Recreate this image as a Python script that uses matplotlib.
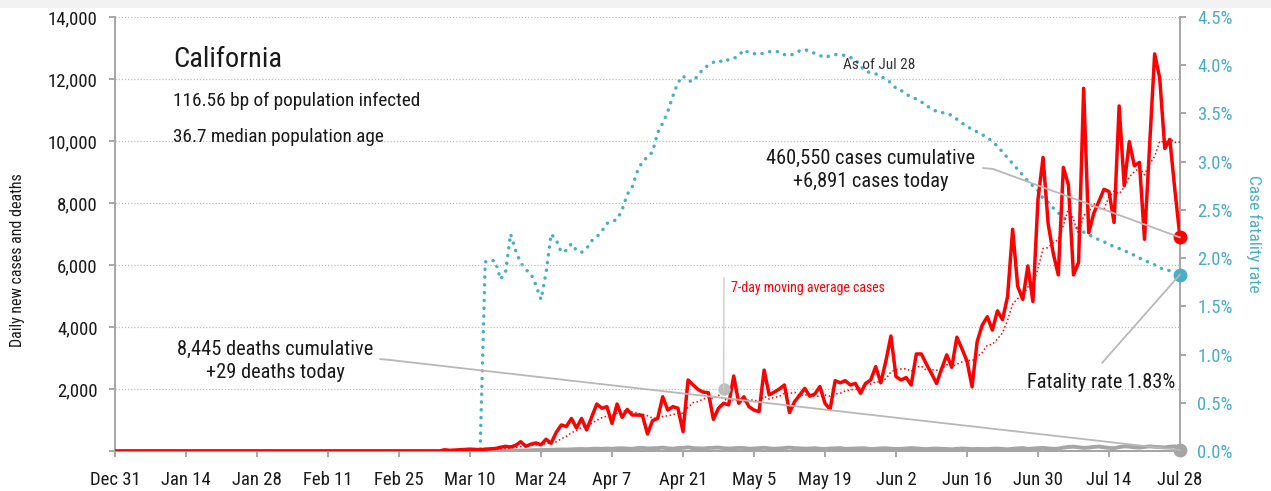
import numpy as np
import pandas as pd
import matplotlib
matplotlib.use("Agg")
import matplotlib.pyplot as plt
import matplotlib.dates as mdates
from matplotlib.patches import ConnectionPatch, Rectangle
from matplotlib import font_manager

# ---------------- data ----------------
start_date = "2019-12-31"
n_days = 211

# daily new cases, days 64..210 (earlier days are zero)
cases_tail = [
    0, 40, 20, 30, 40, 50, 60, 50, 40, 60, 70, 80, 120, 150, 130, 180,
    300, 150, 220, 260, 200, 380, 250, 600, 840, 790, 1050, 740, 1050, 680,
    1100, 1515, 1380, 1430, 890, 1515, 1085, 1340, 1160, 1160, 1150, 550,
    980, 1050, 1750, 1320, 1430, 1380, 625, 2290, 2130, 1980, 1900, 1880,
    1020, 1380, 1540, 1490, 2420, 1540, 1750, 1430, 1320, 1270, 2610, 1810,
    1900, 2000, 2130, 1240, 1590, 1800, 2020, 1770, 1840, 2080, 1540, 1340,
    2270, 2200, 2270, 2130, 2180, 1860, 2180, 2290, 2720, 2200, 2900, 3710,
    2400, 2290, 2370, 2130, 3130, 3130, 2800, 2500, 2180, 2650, 3100, 2700,
    3670, 3300, 2900, 2070, 3530, 4060, 4330, 3900, 4520, 4240, 4980, 7150,
    5310, 4890, 5970, 4820, 8120, 9470, 7330, 6380, 5680, 9150, 8580, 5680,
    6080, 11700, 7040, 7670, 8050, 8440, 8370, 7370, 11130, 8560, 9980, 9200,
    9310, 6830, 9800, 12810, 12030, 9760, 10050, 8400, 6891,
]
cases = [0] * (n_days - len(cases_tail)) + cases_tail

# daily new deaths, days 70..210
deaths_tail = [
    1, 2, 3, 4, 5, 6, 8, 10, 12, 15,
    18, 20, 25, 30, 28, 35, 40, 45, 50, 48,
    55, 60, 65, 58, 70, 75, 68, 80, 72, 85,
    90, 78, 70, 95, 100, 80, 88, 92, 110, 85,
    75, 95, 100, 120, 90, 85, 80, 95, 105, 110,
    90, 80, 85, 100, 95, 75, 80, 90, 105, 85,
    70, 80, 95, 110, 90, 85, 75, 80, 90, 70,
    65, 80, 85, 95, 70, 75, 80, 90, 85, 60,
    70, 85, 90, 75, 65, 70, 80, 95, 85, 70,
    60, 75, 80, 70, 65, 55, 70, 80, 75, 60,
    70, 65, 60, 75, 80, 65, 55, 70, 85, 95,
    70, 80, 90, 100, 85, 70, 75, 110, 130, 140,
    120, 100, 110, 130, 145, 120, 100, 90, 125, 150,
    140, 120, 110, 130, 150, 135, 125, 115, 140, 150,
    29,
]
deaths = [0] * (n_days - len(deaths_tail)) + deaths_tail

# case fatality rate (%), days 73..210
cfr_tail = [
    1.96, 1.98, 1.97, 1.78, 1.85, 2.25, 2.08, 1.95, 1.88, 1.84, 1.72, 1.57,
    1.85, 2.25, 2.19, 2.06, 2.08, 2.15, 2.08, 2.06, 2.10, 2.18, 2.22, 2.28,
    2.36, 2.38, 2.40, 2.50, 2.66, 2.74, 2.90, 3.00, 3.05, 3.10, 3.30, 3.40,
    3.52, 3.68, 3.82, 3.89, 3.84, 3.83, 3.90, 3.96, 4.00, 4.03, 4.05, 4.03,
    4.06, 4.07, 4.10, 4.16, 4.13, 4.12, 4.11, 4.13, 4.14, 4.14, 4.14, 4.11,
    4.10, 4.12, 4.15, 4.16, 4.15, 4.12, 4.10, 4.08, 4.10, 4.11, 4.11, 4.10,
    4.08, 4.06, 3.99, 3.94, 3.92, 3.91, 3.89, 3.85, 3.82, 3.76, 3.74, 3.70,
    3.67, 3.65, 3.62, 3.58, 3.55, 3.52, 3.51, 3.50, 3.48, 3.44, 3.40, 3.37,
    3.33, 3.31, 3.28, 3.25, 3.21, 3.16, 3.10, 3.04, 2.98, 2.92, 2.86, 2.80,
    2.75, 2.70, 2.62, 2.58, 2.52, 2.47, 2.42, 2.38, 2.34, 2.30, 2.27, 2.24,
    2.22, 2.19, 2.17, 2.14, 2.12, 2.10, 2.08, 2.05, 2.03, 2.00, 1.98, 1.95,
    1.93, 1.90, 1.88, 1.87, 1.85, 1.83,
]
cfr = [0.0] * (n_days - len(cfr_tail)) + cfr_tail

state = "California"
infected_text = "116.56 bp of population infected"
age_text = "36.7 median population age"
cases_cum_text = "460,550 cases cumulative\n+6,891 cases today"
deaths_cum_text = "8,445 deaths cumulative\n+29 deaths today"
fatality_text = "Fatality rate 1.83%"
asof_text = "As of Jul 28"
ma_label = "7-day moving average cases"
left_label = "Daily new cases and deaths"
right_label = "Case fatality rate"

left_ticks = [0, 2000, 4000, 6000, 8000, 10000, 12000, 14000]
right_ticks = [0.0, 0.5, 1.0, 1.5, 2.0, 2.5, 3.0, 3.5, 4.0, 4.5]

# ---------------- style ----------------
names = {f.name for f in font_manager.fontManager.ttflist}
fams = [n for n in ["Liberation Sans Narrow", "Roboto Condensed", "Open Sans Condensed",
                    "Roboto", "Liberation Sans", "DejaVu Sans"] if n in names]
plt.rcParams["font.family"] = fams + ["DejaVu Sans"]

RED = "#ff0000"
TEAL = "#4aaec7"
GRAY = "#a6a6a6"
LGRAY = "#b8b8b8"
TXT = "#1a1a1a"

dates = pd.date_range(start_date, periods=n_days, freq="D")
xnum = mdates.date2num(dates.to_pydatetime())
df = pd.DataFrame({"cases": cases, "deaths": deaths, "cfr": cfr}, index=dates)
df["ma"] = df["cases"].rolling(7, min_periods=1).mean()

W, H = 1271, 491
fig = plt.figure(figsize=(W / 100, H / 100), dpi=100)
fig.add_artist(Rectangle((0, 1 - 8 / H), 1, 8 / H, transform=fig.transFigure,
                         facecolor="#f2f2f2", edgecolor="none", zorder=0))
ax = fig.add_axes([115 / W, 1 - 451 / H, 1065 / W, 434 / H])
ax2 = ax.twinx()

def fp(x, y):
    """figure pixel coords from top-left pixel coords"""
    return (x, H - y)

# gridlines
for v in left_ticks[1:]:
    ax.axhline(v, color="#bdbdbd", lw=0.9, ls=(0, (1, 1.5)), zorder=1)

# fatality rate (right axis)
ax2.plot(xnum, df["cfr"].values, color=TEAL, lw=2.5, ls=(0, (0.05, 2.2)),
         dash_capstyle="round", zorder=2)
ax2.plot(xnum[-1], df["cfr"].iloc[-1], "o", color=TEAL, ms=9, clip_on=False, zorder=5)

# deaths, cases, MA
ax.plot(xnum, df["deaths"].values, color=GRAY, lw=2.8, zorder=3, solid_joinstyle="round")
ax.plot(xnum, df["ma"].values, color=RED, lw=1.1, ls=(0, (1, 1.6)), zorder=3)
ax.plot(xnum, df["cases"].values, color=RED, lw=2.5, zorder=4, solid_joinstyle="round")
ax.plot(xnum[-1], df["cases"].iloc[-1], "o", color=RED, ms=9, clip_on=False, zorder=6)
ax.plot(xnum[-1], df["deaths"].iloc[-1], "o", color=GRAY, ms=9, clip_on=False, zorder=6)

ax.set_zorder(ax2.get_zorder() + 1)
ax.patch.set_visible(False)

# axes limits / ticks
ax.set_xlim(xnum[0], xnum[-1])
ax.set_ylim(0, 14000)
ax2.set_ylim(0, 4.5)
ax.set_yticks(left_ticks)
ax.set_yticklabels([f"{v:,}" if v else "" for v in left_ticks])
ax2.set_yticks(right_ticks)
ax2.set_yticklabels([f"{v:.1f}%" for v in right_ticks])
ax.set_xticks(xnum[::14])
ax.xaxis.set_major_formatter(mdates.DateFormatter("%b %-d"))

for a in (ax, ax2):
    for s in a.spines.values():
        s.set_color(GRAY)
        s.set_linewidth(1.4)
    a.spines["top"].set_visible(False)
ax.spines["right"].set_visible(False)
ax2.spines["left"].set_visible(False)

ax.tick_params(axis="both", colors=GRAY, length=4.5, width=1.4, labelsize=13.5,
               labelcolor=TXT, pad=8)
ax.tick_params(axis="x", pad=10)
ax2.tick_params(axis="y", colors=GRAY, length=4.5, width=1.4, labelsize=13.5,
                labelcolor=TEAL, pad=8)

fig.text(18 / W, 1 - 260 / H, left_label, fontsize=11.5, color=TXT, rotation=90,
         va="center", ha="center")
fig.text(1254 / W, 1 - 234 / H, right_label, fontsize=12.5, color=TEAL, rotation=270,
         va="center", ha="center")

# texts
fig.text(173 / W, 1 - 60 / H, state, fontsize=20.5, color=TXT, va="center", ha="left")
fig.text(173 / W, 1 - 101 / H, infected_text, fontsize=13.9, color=TXT, va="center", ha="left")
fig.text(173 / W, 1 - 137 / H, age_text, fontsize=13.9, color=TXT, va="center", ha="left")
fig.text(843 / W, 1 - 65 / H, asof_text, fontsize=11, color="#333333", va="center", ha="left")
fig.text(871 / W, 1 - 170 / H, cases_cum_text, fontsize=14.7, color=TXT, va="center",
         ha="center", linespacing=1.25)
fig.text(275 / W, 1 - 361 / H, deaths_cum_text, fontsize=14.7, color=TXT, va="center",
         ha="center", linespacing=1.25)
fig.text(1101 / W, 1 - 382 / H, fatality_text, fontsize=14.7, color=TXT, va="center", ha="center")
fig.text(731 / W, 1 - 288 / H, ma_label, fontsize=10, color=RED, va="center", ha="left")

# leader lines
def leader(p_fig, xy, axes, via=None):
    if via:
        fig.add_artist(ConnectionPatch(fp(*p_fig), fp(*via), "figure pixels", "figure pixels",
                                       color=LGRAY, lw=1.3, zorder=7))
        pstart = via
    else:
        pstart = p_fig
    fig.add_artist(ConnectionPatch(fp(*pstart), xy, "figure pixels", axes.transData,
                                   color=LGRAY, lw=1.3, zorder=7))

leader((983, 168), (xnum[-1], df["cases"].iloc[-1]), ax, via=(993, 169))
leader((380, 359), (xnum[-1], df["deaths"].iloc[-1]), ax, via=(390, 360))
leader((1102, 363), (xnum[-1], df["cfr"].iloc[-1]), ax2)

ma_i = 120
ma_pt = (xnum[ma_i], df["ma"].iloc[ma_i] + 300)
ax.plot(*ma_pt, "o", color="#bdbdbd", ms=8, zorder=7)
fig.add_artist(ConnectionPatch(fp(724, 278), ma_pt, "figure pixels", ax.transData,
                               color="#cccccc", lw=1.0, zorder=6))

fig.savefig("out.png", dpi=100)
